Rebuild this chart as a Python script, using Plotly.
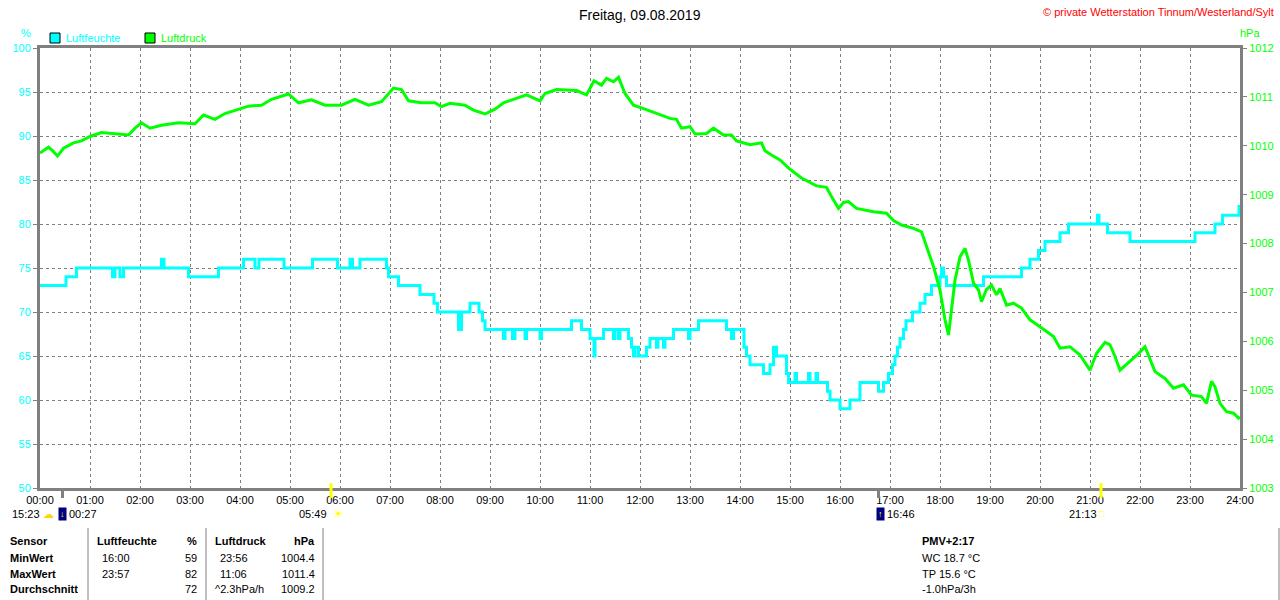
# Wetterstation Tagesverlauf: Luftfeuchte und Luftdruck
import plotly.graph_objects as go

# Luftfeuchte (%), Zeit in Stunden
hum_t = [0.0, 0.52, 0.73, 1.45, 1.5, 1.6, 1.67, 2.43, 2.48, 2.97,
         3.57, 4.07, 4.3, 4.38, 4.88, 5.45, 5.95, 6.2, 6.25, 6.4,
         6.93, 6.97, 7.17, 7.6, 7.88, 7.95, 8.37, 8.43, 8.6, 8.78,
         8.85, 8.9, 9.27, 9.3, 9.45, 9.5, 9.7, 9.73, 10.0, 10.03,
         10.63, 10.83, 11.0, 11.08, 11.1, 11.27, 11.47, 11.5, 11.57, 11.6,
         11.77, 11.83, 11.87, 11.9, 11.97, 12.13, 12.2, 12.33, 12.36, 12.47,
         12.5, 12.67, 12.97, 13.0, 13.17, 13.73, 13.83, 13.87, 14.08, 14.13,
         14.2, 14.47, 14.6, 14.67, 14.73, 14.93, 14.97, 15.1, 15.13, 15.37,
         15.4, 15.52, 15.55, 15.75, 15.8, 16.0, 16.2, 16.4, 16.77, 16.87,
         16.97, 17.05, 17.1, 17.15, 17.2, 17.27, 17.32, 17.45, 17.6, 17.7,
         17.83, 18.0, 18.03, 18.07, 18.13, 18.87, 19.63, 19.8, 19.97, 20.1,
         20.4, 20.57, 21.15, 21.18, 21.35, 21.8, 23.1, 23.5, 23.65, 23.98,
         24.0]
hum_v = [73, 74, 75, 74, 75, 74, 75, 76, 75, 74,
         75, 76, 75, 76, 75, 76, 75, 76, 75, 76,
         75, 74, 73, 72, 71, 70, 68, 70, 71, 70,
         69, 68, 67, 68, 67, 68, 67, 68, 67, 68,
         69, 68, 67, 65, 67, 68, 67, 68, 67, 68,
         67, 66, 65, 66, 65, 66, 67, 66, 67, 66,
         67, 68, 67, 68, 69, 68, 67, 68, 66, 65,
         64, 63, 64, 66, 65, 63, 62, 63, 62, 63,
         62, 63, 62, 61, 60, 59, 60, 62, 61, 62,
         63, 64, 65, 66, 67, 68, 69, 70, 71, 72,
         73, 74, 75, 74, 73, 74, 75, 76, 77, 78,
         79, 80, 81, 80, 79, 78, 79, 80, 81, 82,
         82]

# Luftdruck (hPa)
press_t = [0.0, 0.17, 0.25, 0.35, 0.47, 0.67, 0.83, 1.0, 1.23, 1.5,
           1.77, 1.9, 2.03, 2.2, 2.43, 2.77, 3.1, 3.27, 3.5, 3.7,
           3.9, 4.17, 4.43, 4.63, 4.97, 5.17, 5.43, 5.7, 6.03, 6.3,
           6.57, 6.83, 7.07, 7.23, 7.37, 7.63, 7.9, 8.03, 8.2, 8.5,
           8.67, 8.9, 9.1, 9.27, 9.47, 9.73, 10.0, 10.1, 10.33, 10.73,
           10.93, 11.08, 11.23, 11.33, 11.47, 11.57, 11.7, 11.87, 12.1, 12.33,
           12.6, 12.73, 12.83, 13.0, 13.1, 13.33, 13.47, 13.67, 13.83, 13.93,
           14.2, 14.43, 14.5, 14.63, 14.8, 15.0, 15.23, 15.53, 15.73, 15.83,
           15.97, 16.07, 16.17, 16.33, 16.67, 16.93, 17.07, 17.23, 17.47, 17.63,
           17.73, 17.87, 18.0, 18.1, 18.17, 18.23, 18.3, 18.4, 18.5, 18.57,
           18.67, 18.77, 18.83, 18.93, 19.03, 19.13, 19.2, 19.33, 19.47, 19.63,
           19.8, 20.0, 20.27, 20.4, 20.6, 20.8, 21.0, 21.13, 21.3, 21.4,
           21.5, 21.6, 21.77, 21.97, 22.1, 22.2, 22.3, 22.5, 22.67, 22.87,
           23.03, 23.23, 23.33, 23.43, 23.5, 23.6, 23.73, 23.87, 23.97, 24.0]
press_v = [1009.85, 1009.97, 1009.90, 1009.79, 1009.95, 1010.06, 1010.10, 1010.19, 1010.27, 1010.24,
           1010.22, 1010.36, 1010.47, 1010.36, 1010.42, 1010.47, 1010.45, 1010.63, 1010.54, 1010.66,
           1010.73, 1010.81, 1010.83, 1010.95, 1011.06, 1010.88, 1010.94, 1010.83, 1010.83, 1010.95,
           1010.83, 1010.90, 1011.18, 1011.15, 1010.92, 1010.88, 1010.88, 1010.80, 1010.87, 1010.83,
           1010.73, 1010.65, 1010.75, 1010.88, 1010.95, 1011.04, 1010.92, 1011.07, 1011.15, 1011.13,
           1011.04, 1011.33, 1011.24, 1011.38, 1011.31, 1011.40, 1011.07, 1010.83, 1010.75, 1010.66,
           1010.56, 1010.54, 1010.36, 1010.39, 1010.24, 1010.25, 1010.36, 1010.22, 1010.22, 1010.10,
           1010.02, 1010.06, 1009.90, 1009.81, 1009.71, 1009.52, 1009.34, 1009.18, 1009.15, 1008.96,
           1008.72, 1008.84, 1008.86, 1008.72, 1008.65, 1008.62, 1008.47, 1008.38, 1008.31, 1008.24,
           1007.94, 1007.53, 1007.05, 1006.44, 1006.13, 1006.71, 1007.25, 1007.73, 1007.90, 1007.66,
           1007.19, 1007.05, 1006.81, 1007.06, 1007.15, 1006.95, 1007.08, 1006.74, 1006.78, 1006.68,
           1006.44, 1006.30, 1006.10, 1005.86, 1005.89, 1005.72, 1005.41, 1005.75, 1005.98, 1005.93,
           1005.69, 1005.41, 1005.56, 1005.75, 1005.89, 1005.62, 1005.38, 1005.24, 1005.04, 1005.11,
           1004.90, 1004.87, 1004.73, 1005.18, 1005.07, 1004.73, 1004.56, 1004.53, 1004.43, 1004.45]

hours = list(range(25))
hour_labels = ["%02d:00" % h for h in hours]

# Sonne/Mond Ereignisse (Stunde, Farbe der Markierung)
event_t = [0.45, 5.82, 16.77, 21.22]
event_col = ["#808080", "#FFFF00", "#808080", "#FFFF00"]

# Tabelle
table_rows = ["Sensor", "MinWert", "MaxWert", "Durchschnitt"]
hum_time = ["Luftfeuchte", "16:00", "23:57", ""]
hum_val = ["%", "59", "82", "72"]
press_time = ["Luftdruck", "23:56", "11:06", "^2.3hPa/h"]
press_val = ["hPa", "1004.4", "1011.4", "1009.2"]
pmv_lines = ["PMV+2:17", "WC 18.7 °C", "TP 15.6 °C", "-1.0hPa/3h"]

CYAN = "#00FFFF"
GREEN = "#00FF00"
GRAY = "#808080"
FONT = "Liberation Sans"


def px(x):
    return (x - 40) / 1200.0


def py(y):
    return (488 - y) / 440.0


fig = go.Figure()

fig.add_trace(go.Scatter(x=hum_t, y=hum_v, mode='lines', name='Luftfeuchte',
                         line=dict(color=CYAN, width=3, shape='hv')))
fig.add_trace(go.Scatter(x=press_t, y=press_v, mode='lines', name='Luftdruck', yaxis='y2',
                         line=dict(color=GREEN, width=3)))

ann = []
shapes = []


def text(x, y, s, color='black', size=11, anchor='left', bold=False):
    ann.append(dict(x=px(x), y=py(y), xref='paper', yref='paper', text=("<b>%s</b>" % s) if bold else s,
                    showarrow=False, xanchor=anchor, yanchor='middle',
                    font=dict(color=color, size=size, family=FONT)))


# Titel und Copyright
text(640, 15, "Freitag, 09.08.2019", size=14, anchor='center')
text(1276, 12, "© private Wetterstation Tinnum/Westerland/Sylt", color='#FF0000', size=11, anchor='right')
text(26, 33, "%", color=CYAN, anchor='center')
text(1250, 33, "hPa", color=GREEN, anchor='center')

# Legende
for x0, col, name in [(50, CYAN, "Luftfeuchte"), (145, GREEN, "Luftdruck")]:
    shapes.append(dict(type='rect', xref='paper', yref='paper', x0=px(x0), x1=px(x0 + 10),
                       y0=py(43), y1=py(33), fillcolor=col, line=dict(color='black', width=1)))
    text(x0 + 14, 38, name, color=col)

# Ereignis-Markierungen
for t, c in zip(event_t, event_col):
    shapes.append(dict(type='line', xref='x', yref='paper', x0=t, x1=t, y0=py(498), y1=py(483) if c != GRAY else py(488),
                       line=dict(color=c, width=3)))

text(10, 514, "15:23")
text(41, 514, "☁", color='#FFD700', size=11)
ann.append(dict(x=px(62), y=py(514), xref='paper', yref='paper', text="↓", showarrow=False,
                xanchor='center', yanchor='middle', bgcolor='#000080',
                font=dict(color='#FFFF00', size=9, family=FONT)))
text(67, 514, "00:27")
text(297, 514, "05:49")
text(331, 514, "☀", color='#FFFF00', size=12)
ann.append(dict(x=px(880), y=py(514), xref='paper', yref='paper', text="↑", showarrow=False,
                xanchor='center', yanchor='middle', bgcolor='#000080',
                font=dict(color='#FFFF00', size=9, family=FONT)))
text(885, 514, "16:46")
text(1067, 514, "21:13")
text(1097, 514, "□", color='#FFFF00', size=9)

# Tabelle
row_y = [541, 558, 574, 589]
for i, y in enumerate(row_y):
    text(8, y, table_rows[i], bold=True)
    text(95 if i == 0 else 100, y, hum_time[i], bold=(i == 0))
    text(199, y, hum_val[i], anchor='right', bold=(i == 0))
    text(213 if i in (0, 3) else 218, y, press_time[i], bold=(i == 0))
    text(317, y, press_val[i], anchor='right', bold=(i == 0))
    text(920, y, pmv_lines[i], bold=(i == 0))

for xs in [88, 206, 323, 1279]:
    shapes.append(dict(type='line', xref='paper', yref='paper', x0=px(xs), x1=px(xs),
                       y0=py(528), y1=py(600), line=dict(color=GRAY, width=1)))

fig.update_layout(
    width=1280, height=600,
    margin=dict(l=40, r=40, t=48, b=112, autoexpand=False),
    paper_bgcolor='white', plot_bgcolor='white',
    showlegend=False,
    font=dict(family=FONT, size=11, color='black'),
    xaxis=dict(range=[0, 24], tickvals=hours, ticktext=hour_labels, showgrid=True, automargin=False,
               gridcolor=GRAY, griddash='3px,3px', gridwidth=1, showline=True, mirror=True,
               linecolor=GRAY, linewidth=3, zeroline=False, ticks='', tickfont=dict(size=11, color='black')),
    yaxis=dict(range=[50, 100], dtick=5, showgrid=True, gridcolor=GRAY, griddash='3px,3px', gridwidth=1,
               showline=True, linecolor=GRAY, linewidth=3, zeroline=False, ticks='outside', ticklen=4,
               automargin=False, tickcolor=GRAY, tickfont=dict(size=11, color=CYAN)),
    yaxis2=dict(range=[1003, 1012], dtick=1, overlaying='y', side='right', showgrid=False,
                showline=True, linecolor=GRAY, linewidth=3, zeroline=False, ticks='outside', ticklen=4,
                automargin=False, tickcolor=GRAY, tickfont=dict(size=11, color=GREEN)),
    annotations=ann,
    shapes=shapes,
)

# Seitenrand des Browsers entfernen, damit das Bild bei 0,0 beginnt
fig.write_html("out.html", config={'displayModeBar': False},
               post_script="document.body.style.margin='0px';")
